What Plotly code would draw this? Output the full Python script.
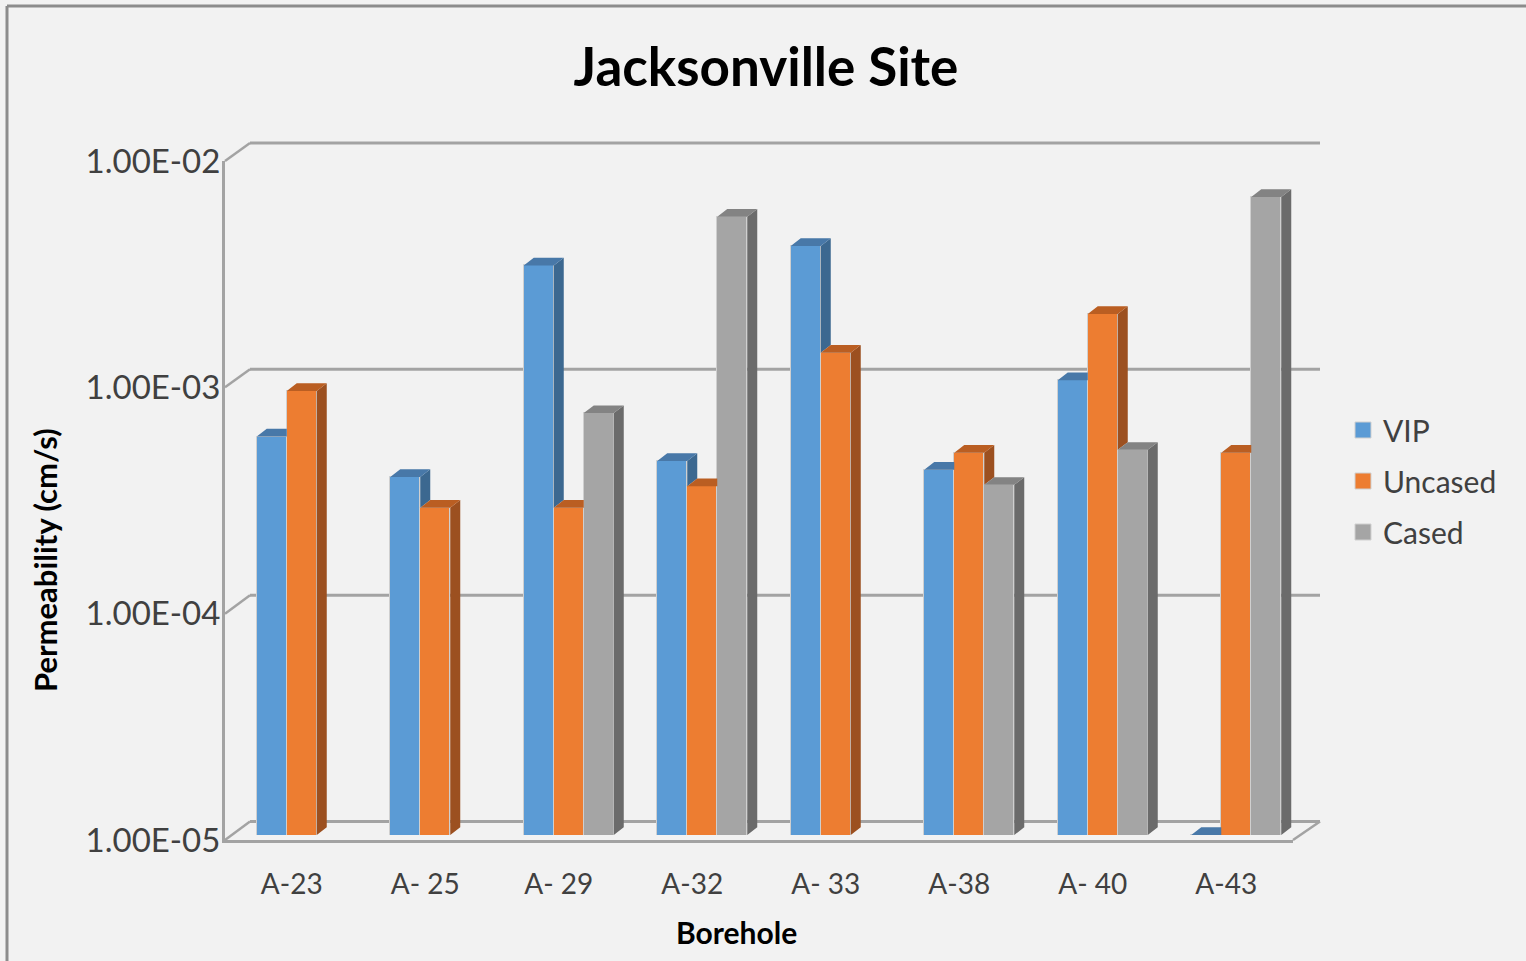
import math
import plotly.graph_objects as go

# ---------------- data ----------------
boreholes = ["A-23", "A- 25", "A- 29", "A-32", "A- 33", "A-38", "A- 40", "A-43"]
series_names = ["VIP", "Uncased", "Cased"]
vip = [5.9e-4, 3.9e-4, 3.4e-3, 4.6e-4, 4.15e-3, 4.2e-4, 1.05e-3, 1.0e-5]
uncased = [9.4e-4, 2.85e-4, 2.85e-4, 3.55e-4, 1.39e-3, 5.0e-4, 2.07e-3, 5.0e-4]
cased = [None, None, 7.5e-4, 5.6e-3, None, 3.6e-4, 5.15e-4, 6.85e-3]
tick_values = [1e-5, 1e-4, 1e-3, 1e-2]
tick_labels = ["1.00E-05", "1.00E-04", "1.00E-03", "1.00E-02"]

# ---------------- styles ----------------
front_colors = ["#5B9BD5", "#ED7D31", "#A5A5A5"]
side_colors = ["#3C6890", "#9C5020", "#6B6B6B"]
top_colors = ["#4878A8", "#BA5E22", "#838383"]
BG = "#F2F2F2"
GRID = "#A3A3A3"
FONT = "Lato"

W, H = 1526, 961
def fx(px):
    return px / W
def fy(py):
    return 1 - py / H

YMIN, YMAX = -5, -2
# pixel geometry of the three planes (front labels, bars, back wall)
front_x = (225, 1293); front_y = (840, 161)
bars_x = (235, 1303); bars_y = (835, 160)
back_x = (250, 1320); back_y = (821.5, 143)

cat_px = (bars_x[1] - bars_x[0]) / len(boreholes)
BAR_W = 30 / cat_px
DXU = 10 / cat_px
K = 10 ** (7.7 / ((bars_y[0] - bars_y[1]) / (YMAX - YMIN)))
offsets = [-BAR_W, 0.0, BAR_W]

def ypix(plane, t):
    y0, y1 = plane
    return y0 + (math.log10(t) - YMIN) / (YMAX - YMIN) * (y1 - y0)

series = [vip, uncased, cased]

fig = go.Figure()

# front faces (real bars)
for j, (name, vals) in enumerate(zip(series_names, series)):
    fig.add_trace(go.Bar(
        x=[i + offsets[j] for i in range(len(boreholes))],
        y=vals, width=BAR_W, name=name, showlegend=False,
        marker=dict(color=front_colors[j], line=dict(color="#CFCFCF", width=1)),
        legendgroup=name, xaxis="x", yaxis="y",
        hovertemplate="%{y:.2E}<extra>" + name + "</extra>",
    ))

# side and top faces (3-D effect) derived from the same values
for j, vals in enumerate(series):
    sx, sy, tx, ty = [], [], [], []
    nxt = series[j + 1] if j + 1 < len(series) else [None] * len(vals)
    for i, v in enumerate(vals):
        if v is None:
            continue
        xl = i + offsets[j] - BAR_W / 2
        xr = xl + BAR_W
        nv = nxt[i]
        if nv is None or nv < v:
            bot = max(nv, 1e-5) if nv is not None else 1e-5
            sx += [xr, xr + DXU, xr + DXU, xr, xr, None]
            sy += [v, v * K, bot * K, bot, v, None]
        if nv is not None and nv >= v * K:
            tx += [xl, xr, xr, xl + DXU, xl, None]
            ty += [v, v, v * K, v * K, v, None]
        else:
            tx += [xl, xr, xr + DXU, xl + DXU, xl, None]
            ty += [v, v, v * K, v * K, v, None]
    fig.add_trace(go.Scatter(x=sx, y=sy, mode="lines", fill="toself",
                             fillcolor=side_colors[j], line=dict(width=0, color=side_colors[j]),
                             legendgroup=series_names[j],
                             showlegend=False, hoverinfo="skip", xaxis="x", yaxis="y"))
    fig.add_trace(go.Scatter(x=tx, y=ty, mode="lines", fill="toself",
                             fillcolor=top_colors[j], line=dict(width=0, color=top_colors[j]),
                             legendgroup=series_names[j],
                             showlegend=False, hoverinfo="skip", xaxis="x", yaxis="y"))

# legend entries (larger square keys), linked to the bar series
for j, name in enumerate(series_names):
    fig.add_trace(go.Scatter(x=[None], y=[None], mode="markers", name=name,
                             legendgroup=name,
                             marker=dict(symbol="square", size=16, color=front_colors[j],
                                         line=dict(color="#D0D0D0", width=1)),
                             xaxis="x", yaxis="y"))

# invisible trace to carry the front axes (labels + front edges)
fig.add_trace(go.Scatter(x=[0], y=[1e-3], mode="markers", marker=dict(opacity=0),
                         showlegend=False, hoverinfo="skip", xaxis="x2", yaxis="y2"))

shapes = []
# back wall gridlines and side wall diagonals
for t in tick_values:
    yb = ypix(back_y, t)
    yf = ypix(front_y, t)
    shapes.append(dict(type="line", xref="paper", yref="paper", layer="below",
                       x0=fx(back_x[0]), x1=fx(back_x[1]), y0=fy(yb), y1=fy(yb),
                       line=dict(color=GRID, width=3)))
    shapes.append(dict(type="line", xref="paper", yref="paper", layer="below",
                       x0=fx(front_x[0]), x1=fx(back_x[0]), y0=fy(yf), y1=fy(yb),
                       line=dict(color=GRID, width=2.5)))
# floor right edge
shapes.append(dict(type="line", xref="paper", yref="paper", layer="below",
                   x0=fx(front_x[1]), x1=fx(back_x[1]),
                   y0=fy(ypix(front_y, 1e-5)), y1=fy(ypix(back_y, 1e-5)),
                   line=dict(color=GRID, width=2.5)))
# chart border (top and left)
shapes.append(dict(type="line", xref="paper", yref="paper", x0=fx(7), x1=1, y0=fy(6), y1=fy(6),
                   line=dict(color="#8C8C8C", width=3)))
shapes.append(dict(type="line", xref="paper", yref="paper", x0=fx(7), x1=fx(7), y0=fy(6), y1=0,
                   line=dict(color="#8C8C8C", width=3)))

fig.update_layout(
    width=W, height=H, autosize=False,
    margin=dict(l=0, r=0, t=0, b=0, pad=0, autoexpand=False),
    paper_bgcolor=BG, plot_bgcolor="rgba(0,0,0,0)",
    barmode="overlay", bargap=0,
    font=dict(family=FONT, color="#404040"),
    title=dict(text="Jacksonville Site", x=fx(766), xanchor="center",
               y=fy(67), yanchor="middle", automargin=False,
               font=dict(family=FONT, size=53, color="#000000", weight="bold")),
    xaxis=dict(domain=[fx(bars_x[0]), fx(bars_x[1])], range=[-0.5, len(boreholes) - 0.5],
               visible=False, fixedrange=True, automargin=False),
    yaxis=dict(domain=[fy(bars_y[0]), fy(bars_y[1])], type="log", range=[YMIN, YMAX],
               visible=False, fixedrange=True, automargin=False),
    xaxis2=dict(domain=[fx(front_x[0]), fx(front_x[1])], range=[-0.5, len(boreholes) - 0.5],
                anchor="y2", tickmode="array", tickvals=list(range(len(boreholes))),
                ticktext=boreholes, showgrid=False, zeroline=False, automargin=False,
                showline=True, linecolor=GRID, linewidth=3, ticks="", ticklabelstandoff=17,
                tickfont=dict(family=FONT, size=28, color="#404040")),
    yaxis2=dict(domain=[fy(front_y[0]), fy(front_y[1])], type="log", range=[YMIN, YMAX],
                anchor="x2", tickmode="array", tickvals=tick_values, ticktext=tick_labels,
                showgrid=False, zeroline=False, showline=True, linecolor=GRID, linewidth=3,
                ticks="", ticklabelstandoff=-5, automargin=False,
                tickfont=dict(family=FONT, size=33, color="#404040")),
    legend=dict(x=fx(1343), y=fy(404), xanchor="left", yanchor="top",
                bgcolor="rgba(0,0,0,0)", font=dict(family=FONT, size=30, color="#404040"),
                traceorder="grouped", tracegroupgap=9, itemclick="toggle"),
    shapes=shapes,
    annotations=[
        dict(text="<b>Permeability (cm/s)</b>", textangle=-90, xref="paper", yref="paper",
             x=fx(45), y=fy(560), showarrow=False, xanchor="center", yanchor="middle",
             font=dict(family=FONT, size=31, color="#000000")),
        dict(text="<b>Borehole</b>", xref="paper", yref="paper",
             x=fx(736), y=fy(932), showarrow=False, xanchor="center", yanchor="middle",
             font=dict(family=FONT, size=30, color="#000000")),
    ],
)

fig.write_html("out.html")
